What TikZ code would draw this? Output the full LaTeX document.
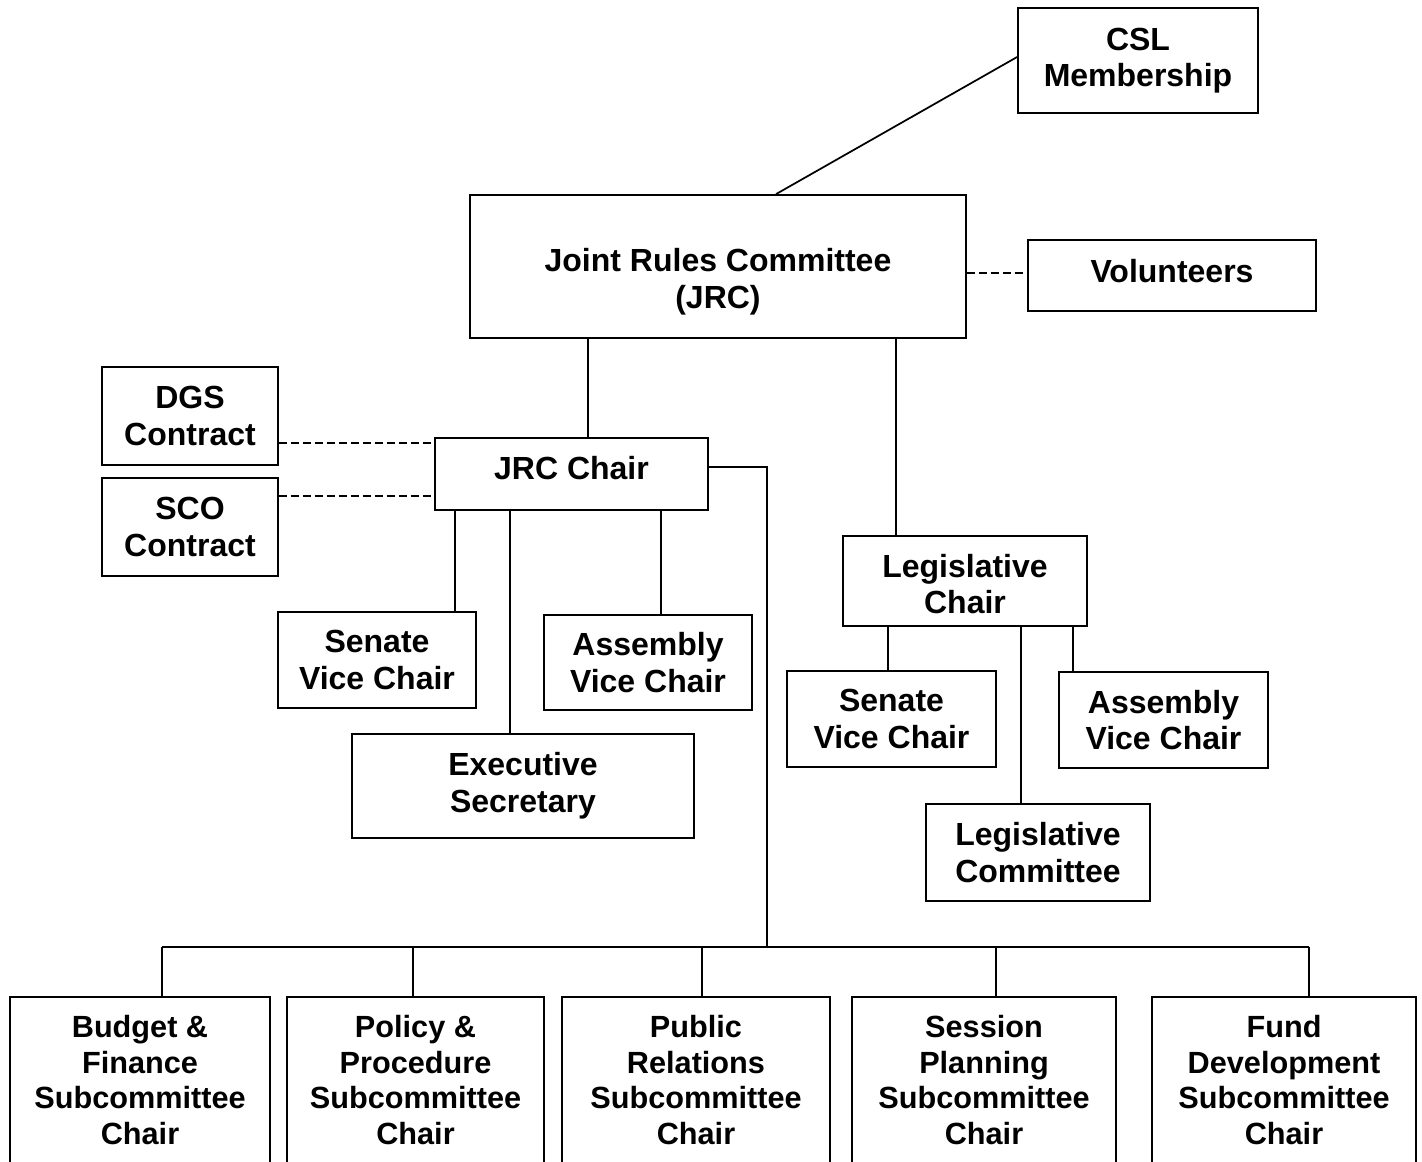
\documentclass[tikz,border=0pt]{standalone}
\usepackage{fontspec}
\setmainfont{Liberation Sans}
\begin{document}
\begin{tikzpicture}[x=0.75pt,y=-0.75pt,
  every node/.style={font=\bfseries\fontsize{24}{27.5}\selectfont, align=center, inner sep=0pt},
  bx/.style 2 args={draw, line width=1.3pt, minimum width=#1*0.75pt, minimum height=#2*0.75pt},
  ln/.style={line width=1.3pt},
  dsh/.style={line width=1.2pt, dash pattern=on 6pt off 3pt},
  btxt/.style={font=\bfseries\fontsize{23}{26.6}\selectfont}]
\path[use as bounding box, clip] (0,0) rectangle (1422,1162);
\fill[white] (0,0) rectangle (1422,1162);
% boxes
\node[bx={240}{105}] (csl) at (1138,60.5) {CSL\\Membership};
\node[bx={496}{143}] (jrc) at (718,266.5) {};
\node (jrct) at (718,282) {Joint Rules Committee\\(JRC)};
\node[bx={288}{71}] (vol) at (1172,275.5) {};
\node (volt) at (1172,271) {Volunteers};
\node[bx={176}{98}] (dgs) at (190,416) {DGS\\Contract};
\node[bx={176}{98}] (sco) at (190,527) {SCO\\Contract};
\node[bx={273}{72}] (chair) at (571.5,474) {};
\node (chairt) at (571.5,468) {JRC Chair};
\node[bx={198}{96}] (svc1) at (377,660) {Senate\\Vice Chair};
\node[bx={208}{95}] (avc1) at (648,662.5) {Assembly\\Vice Chair};
\node[bx={342}{104}] (exec) at (523,786) {Executive\\Secretary};
\node[bx={244}{90}] (lch) at (965,581) {};
\node (lcht) at (965,584) {Legislative\\Chair};
\node[bx={209}{96}] (svc2) at (891.5,719) {Senate\\Vice Chair};
\node[bx={209}{96}] (avc2) at (1163.5,720) {Assembly\\Vice Chair};
\node[bx={224}{97}] (lcom) at (1038,852.5) {Legislative\\Committee};
\node[bx={260}{166}, btxt] (b1) at (140,1080) {Budget \&\\Finance\\Subcommittee\\Chair};
\node[bx={257}{166}, btxt] (b2) at (415.5,1080) {Policy \&\\Procedure\\Subcommittee\\Chair};
\node[bx={268}{166}, btxt] (b3) at (696,1080) {Public\\Relations\\Subcommittee\\Chair};
\node[bx={264}{166}, btxt] (b4) at (984,1080) {Session\\Planning\\Subcommittee\\Chair};
\node[bx={264}{166}, btxt] (b5) at (1284,1080) {Fund\\Development\\Subcommittee\\Chair};
% connectors
\draw[ln] (csl.west |- 0,57) -- (776,0 |- jrc.north);
\draw[dsh] (jrc.east |- 0,273) -- (vol.west |- 0,273);
\draw[ln] (588,0 |- jrc.south) -- (588,0 |- chair.north);
\draw[ln] (896,0 |- jrc.south) -- (896,0 |- lch.north);
\draw[dsh] (dgs.east |- 0,443) -- (chair.west |- 0,443);
\draw[dsh] (sco.east |- 0,496) -- (chair.west |- 0,496);
\draw[ln] (455,0 |- chair.south) -- (455,0 |- svc1.north);
\draw[ln] (510,0 |- chair.south) -- (510,0 |- exec.north);
\draw[ln] (661,0 |- chair.south) -- (661,0 |- avc1.north);
\coordinate (busr) at (767,947);
\draw[ln] (chair.east |- 0,467) -- (767,467) -- (busr);
\draw[ln] (162,947) -- (1309,947);
\draw[ln] (162,947) -- (162,0 |- b1.north);
\draw[ln] (413,947) -- (413,0 |- b2.north);
\draw[ln] (702,947) -- (702,0 |- b3.north);
\draw[ln] (996,947) -- (996,0 |- b4.north);
\draw[ln] (1309,947) -- (1309,0 |- b5.north);
\draw[ln] (888,0 |- lch.south) -- (888,0 |- svc2.north);
\draw[ln] (1021,0 |- lch.south) -- (1021,0 |- lcom.north);
\draw[ln] (1073,0 |- lch.south) -- (1073,0 |- avc2.north);
\end{tikzpicture}
\end{document}
